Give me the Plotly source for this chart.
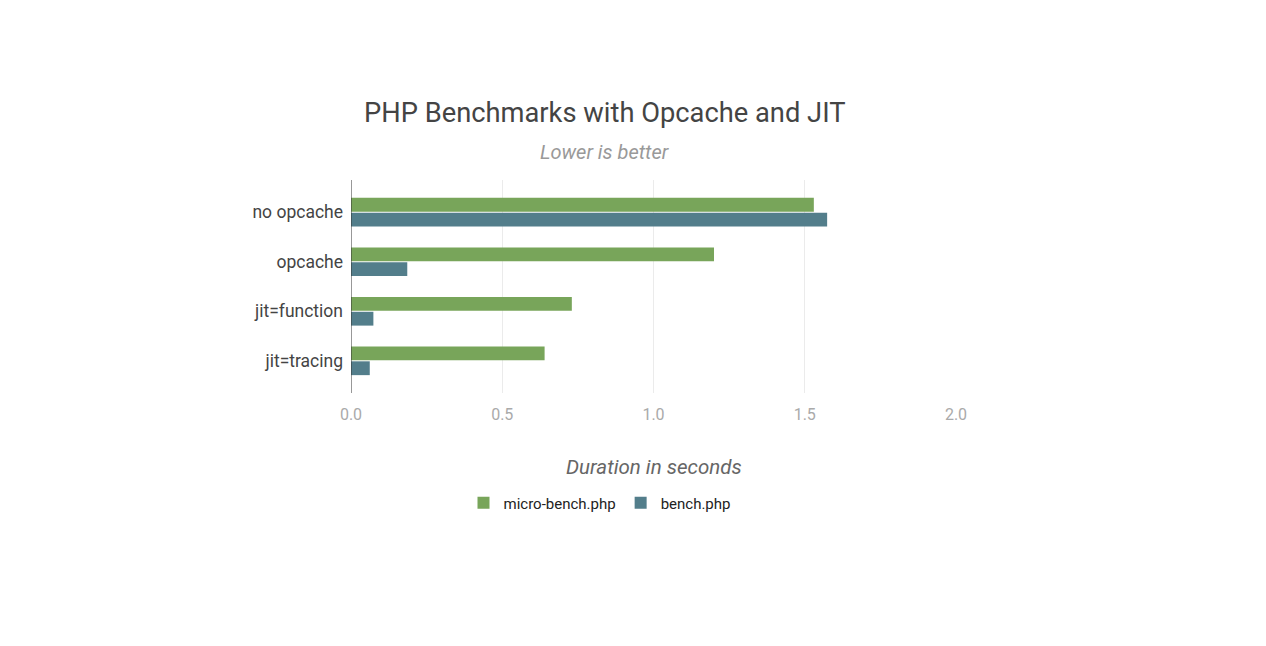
import plotly.graph_objects as go

categories = ["no opcache", "opcache", "jit=function", "jit=tracing"]
micro_bench = [1.53, 1.20, 0.73, 0.64]
bench = [1.574, 0.186, 0.074, 0.062]
x_ticks = [0.0, 0.5, 1.0, 1.5, 2.0]
x_tick_labels = ["0.0", "0.5", "1.0", "1.5", "2.0"]

W, H = 1266, 646
L, R, T, B = 351, 956, 180, 393


def px(x):
    return (x - L) / (R - L)


def py(y):
    return (B - y) / (B - T)


fig = go.Figure()
fig.add_trace(go.Bar(
    y=categories, x=micro_bench, orientation="h", name="micro-bench.php",
    marker=dict(color="#78a55a", line=dict(width=0)),
))
fig.add_trace(go.Bar(
    y=categories, x=bench, orientation="h", name="bench.php",
    marker=dict(color="#537e8b", line=dict(width=0)),
))

fig.update_layout(
    width=W, height=H,
    margin=dict(l=L, r=W - R, t=T, b=H - B, pad=0),
    paper_bgcolor="white", plot_bgcolor="white",
    font=dict(family="Roboto", color="#444"),
    barmode="group", bargap=0.4, bargroupgap=0.07,
    showlegend=True,
    legend=dict(
        orientation="h", x=px(599.5), xanchor="center", y=py(503), yanchor="middle",
        font=dict(size=15, color="#222"), itemwidth=30, bgcolor="rgba(0,0,0,0)",
    ),
    xaxis=dict(
        range=[0, 2.0], tickvals=x_ticks, ticktext=x_tick_labels,
        showgrid=True, gridcolor="#ebebeb", gridwidth=1, zeroline=False,
        showline=False, ticks="", ticklabelstandoff=10,
        tickfont=dict(size=16, color="#aaaaaa"),
    ),
    yaxis=dict(
        categoryorder="array", categoryarray=categories, autorange=False,
        range=[3.65, -0.65], showgrid=False, zeroline=False,
        showline=False, ticks="", ticklabelstandoff=7,
        tickfont=dict(size=17.5, color="#444"),
    ),
    shapes=[dict(type="line", xref="x", yref="paper", x0=0, x1=0, y0=0, y1=1,
                 line=dict(color="#333", width=1))],
    annotations=[
        dict(text="PHP Benchmarks with Opcache and JIT", xref="paper", yref="paper",
             x=px(604.5), y=py(113), xanchor="center", yanchor="middle", showarrow=False,
             font=dict(size=27.3, color="#444")),
        dict(text="<i>Lower is better</i>", xref="paper", yref="paper",
             x=px(604.5), y=py(152), xanchor="center", yanchor="middle", showarrow=False,
             font=dict(size=20, color="#999")),
        dict(text="<i>Duration in seconds</i>", xref="paper", yref="paper",
             x=px(653.5), y=py(467), xanchor="center", yanchor="middle", showarrow=False,
             font=dict(size=20.5, color="#666")),
    ],
)

fig.write_html("out.html")
